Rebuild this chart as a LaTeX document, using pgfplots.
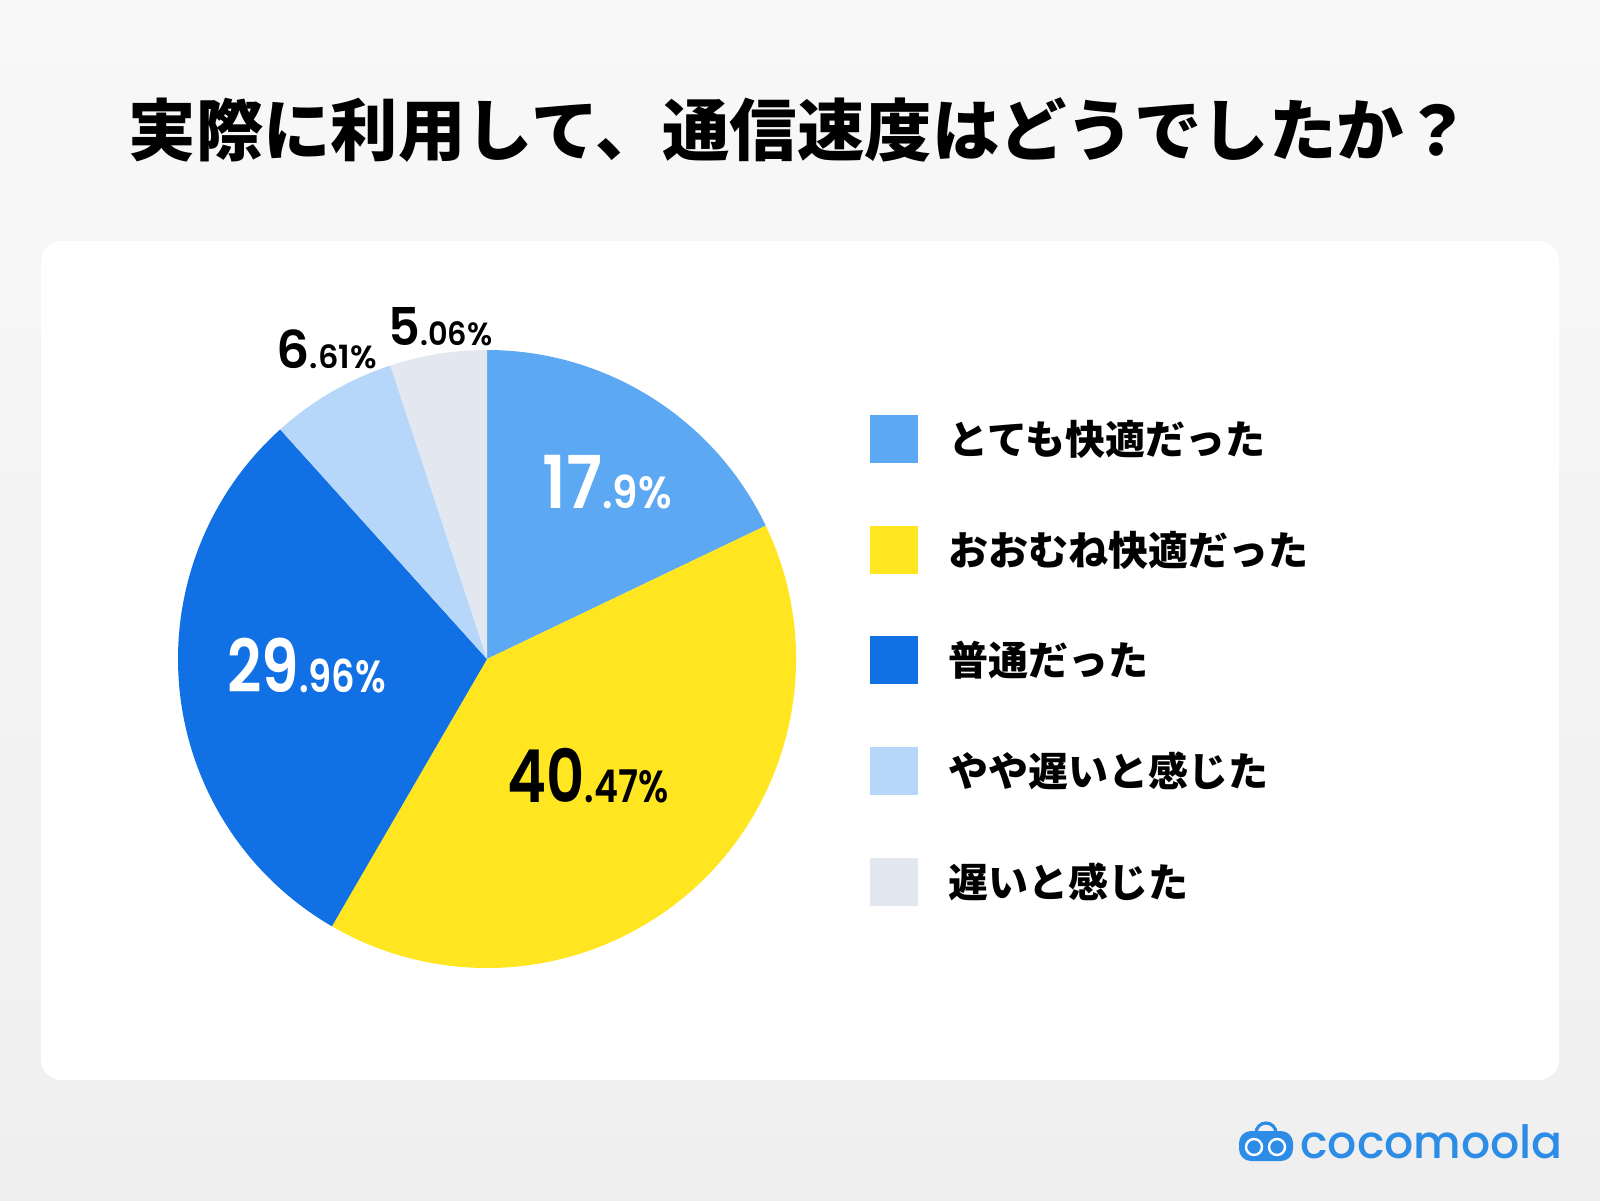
\documentclass[border=0pt]{standalone}
\usepackage{pgfplots}
\pgfplotsset{compat=1.18}
\usepackage{graphicx}
\usepackage{fontspec}
\setmainfont{Poppins}[BoldFont={Poppins SemiBold}]
\newfontfamily\logofont{Poppins Medium}
\newfontfamily\cjk{Noto Sans CJK JP}
\definecolor{bgtop}{HTML}{F8F8F8}
\definecolor{bgbot}{HTML}{EFEFEF}
\definecolor{c1}{HTML}{5CA8F2}
\definecolor{c2}{HTML}{FFE620}
\definecolor{c3}{HTML}{1170E3}
\definecolor{c4}{HTML}{B6D6FA}
\definecolor{c5}{HTML}{E3E7EF}
\definecolor{logo}{HTML}{2C8CE6}
\newcommand\biglab[3]{\scalebox{#1}[1]{\bfseries\fontsize{36.5}{36.5}\selectfont #2\fontsize{22.5}{22.5}\selectfont #3}}
\newcommand\smalllab[3]{\scalebox{#1}[1]{\bfseries\fontsize{26}{26}\selectfont #2\fontsize{16}{16}\selectfont #3}}
\begin{document}
\begin{tikzpicture}
\begin{axis}[hide axis, scale only axis, width=800pt, height=600pt,
  xmin=0, xmax=1600, ymin=0, ymax=1200, y dir=reverse, clip=false]
% background and card
\shade[top color=bgtop, bottom color=bgbot] (axis cs:0,0) rectangle (axis cs:1600,1200);
\fill[white, rounded corners=10pt] (axis cs:41,241) rectangle (axis cs:1559,1080);
% title
\node[font=\cjk\bfseries\fontsize{33.7}{33.7}\selectfont, anchor=center] at (axis cs:800,130) {実際に利用して、通信速度はどうでしたか？};
% pie (values: 17.9, 40.47, 29.96, 6.61, 5.06)
\fill[c1] (axis cs:487,659) -- ++(90:154.5pt) arc[start angle=90, end angle={90-3.6*17.9}, radius=154.5pt] -- cycle;
\fill[c2] (axis cs:487,659) -- ++({90-3.6*17.9}:154.5pt) arc[start angle={90-3.6*17.9}, end angle={90-3.6*(17.9+40.47)}, radius=154.5pt] -- cycle;
\fill[c3] (axis cs:487,659) -- ++({90-3.6*(17.9+40.47)}:154.5pt) arc[start angle={90-3.6*(17.9+40.47)}, end angle={90-3.6*(17.9+40.47+29.96)}, radius=154.5pt] -- cycle;
\fill[c4] (axis cs:487,659) -- ++({90-3.6*(17.9+40.47+29.96)}:154.5pt) arc[start angle={90-3.6*(17.9+40.47+29.96)}, end angle={90-3.6*(17.9+40.47+29.96+6.61)}, radius=154.5pt] -- cycle;
\fill[c5] (axis cs:487,659) -- ++({90-3.6*(17.9+40.47+29.96+6.61)}:154.5pt) arc[start angle={90-3.6*(17.9+40.47+29.96+6.61)}, end angle={90-3.6*(17.9+40.47+29.96+6.61+5.06)}, radius=154.5pt] -- cycle;
% labels
\node[anchor=base west, inner sep=0, text=white] at (axis cs:542,508) {\biglab{0.9}{17}{.9\%}};
\node[anchor=base west, inner sep=0, text=white] at (axis cs:227,692) {\biglab{0.82}{29}{.96\%}};
\node[anchor=base west, inner sep=0, text=black] at (axis cs:507,802) {\biglab{0.81}{40}{.47\%}};
\node[anchor=base west, inner sep=0, text=black] at (axis cs:276,368) {\smalllab{1.0}{6}{.61\%}};
\node[anchor=base west, inner sep=0, text=black] at (axis cs:388,345) {\smalllab{0.95}{5}{.06\%}};
% legend
\fill[c1] (axis cs:870,415) rectangle (axis cs:918,463);
\fill[c2] (axis cs:870,526) rectangle (axis cs:918,574);
\fill[c3] (axis cs:870,636) rectangle (axis cs:918,684);
\fill[c4] (axis cs:870,747) rectangle (axis cs:918,795);
\fill[c5] (axis cs:870,858) rectangle (axis cs:918,906);
\node[anchor=west, inner sep=0, font=\cjk\bfseries\fontsize{20}{20}\selectfont] at (axis cs:948,439) {とても快適だった};
\node[anchor=west, inner sep=0, font=\cjk\bfseries\fontsize{20}{20}\selectfont] at (axis cs:948,550) {おおむね快適だった};
\node[anchor=west, inner sep=0, font=\cjk\bfseries\fontsize{20}{20}\selectfont] at (axis cs:948,660) {普通だった};
\node[anchor=west, inner sep=0, font=\cjk\bfseries\fontsize{20}{20}\selectfont] at (axis cs:948,771) {やや遅いと感じた};
\node[anchor=west, inner sep=0, font=\cjk\bfseries\fontsize{20}{20}\selectfont] at (axis cs:948,882) {遅いと感じた};
% logo
\draw[logo, line width=1.6pt] (axis cs:1256,1133) arc[start angle=180, end angle=0, radius=5pt];
\fill[logo, rounded corners=6pt] (axis cs:1239,1131) rectangle (axis cs:1293,1161);
\draw[white, line width=1.2pt] (axis cs:1254,1147) circle[radius=4pt];
\draw[white, line width=1.2pt] (axis cs:1277,1147) circle[radius=4pt];
\node[anchor=base west, inner sep=0, text=logo, font=\logofont\fontsize{22.9}{22.9}\selectfont] at (axis cs:1300,1158) {cocomoola};
\end{axis}
\end{tikzpicture}
\end{document}
